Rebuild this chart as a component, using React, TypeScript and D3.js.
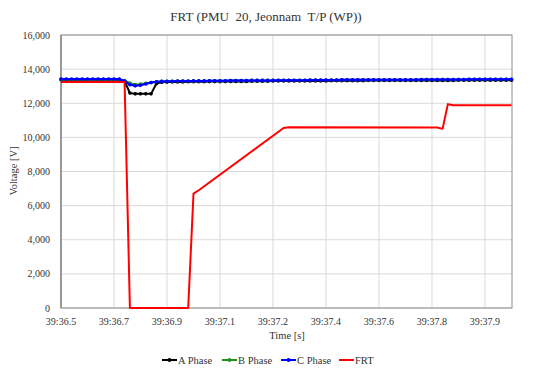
import React from 'react';
import * as d3 from 'd3';

// samples at 60/s, ticks every 10 samples
const tickIndex = [0, 10, 20, 30, 40, 50, 60, 70, 80];
const tickLabels = ['39:36.5', '39:36.7', '39:36.9', '39:37.1', '39:37.2', '39:37.4', '39:37.6', '39:37.8', '39:37.9'];
const yTicks = [0, 2000, 4000, 6000, 8000, 10000, 12000, 14000, 16000];

const phaseA = [
  13380, 13380, 13380, 13380, 13380, 13380, 13380, 13380, 13380, 13380,
  13380, 13380, 13300, 12600, 12550, 12550, 12550, 12550, 13150, 13230,
  13240, 13250, 13250, 13250, 13260, 13260, 13260, 13260, 13270, 13270,
  13270, 13270, 13280, 13280, 13280, 13280, 13290, 13290, 13290, 13290,
  13300, 13300, 13300, 13300, 13300, 13310, 13310, 13310, 13310, 13310,
  13310, 13320, 13320, 13320, 13320, 13320, 13320, 13320, 13330, 13330,
  13330, 13330, 13330, 13330, 13330, 13330, 13340, 13340, 13340, 13340,
  13340, 13340, 13340, 13340, 13340, 13350, 13350, 13350, 13350, 13350,
  13350, 13350, 13350, 13350, 13350, 13350,
];
const phaseB = [
  13400, 13400, 13400, 13400, 13400, 13400, 13400, 13400, 13400, 13400,
  13400, 13400, 13330, 13180, 13100, 13120, 13170, 13220, 13260, 13280,
  13290, 13290, 13300, 13300, 13300, 13310, 13310, 13310, 13320, 13320,
  13320, 13320, 13330, 13330, 13330, 13330, 13340, 13340, 13340, 13340,
  13340, 13350, 13350, 13350, 13350, 13350, 13350, 13360, 13360, 13360,
  13360, 13360, 13360, 13370, 13370, 13370, 13370, 13370, 13370, 13370,
  13380, 13380, 13380, 13380, 13380, 13380, 13380, 13380, 13390, 13390,
  13390, 13390, 13390, 13390, 13390, 13390, 13390, 13400, 13400, 13400,
  13400, 13400, 13400, 13400, 13400, 13400,
];
const phaseC = [
  13420, 13420, 13420, 13420, 13420, 13420, 13420, 13420, 13420, 13420,
  13420, 13420, 13300, 13080, 13020, 13050, 13130, 13210, 13260, 13280,
  13290, 13290, 13300, 13300, 13300, 13310, 13310, 13310, 13320, 13320,
  13320, 13320, 13330, 13330, 13330, 13330, 13340, 13340, 13340, 13340,
  13340, 13350, 13350, 13350, 13350, 13350, 13350, 13360, 13360, 13360,
  13360, 13360, 13360, 13370, 13370, 13370, 13370, 13370, 13370, 13370,
  13380, 13380, 13380, 13380, 13380, 13380, 13380, 13380, 13390, 13390,
  13390, 13390, 13390, 13390, 13390, 13390, 13390, 13400, 13400, 13400,
  13400, 13400, 13400, 13400, 13400, 13400,
];
// FRT curve vertices: [sample index, voltage]
const frt: [number, number][] = [
  [0, 13250], [12, 13250], [13, 0], [24, 0], [25, 6700], [26, 6900],
  [42, 10550], [43, 10600], [71, 10580], [72, 10500], [73, 11950], [74, 11880], [85, 11880],
];

const series = [
  { name: 'A Phase', color: '#000000', values: phaseA },
  { name: 'B Phase', color: '#1f8f1f', values: phaseB },
  { name: 'C Phase', color: '#0000ff', values: phaseC },
];

const W = 550;
const H = 376;
const FONT = "'Liberation Serif', 'DejaVu Serif', serif";
const txt = { fontFamily: FONT };

export default function App() {
  const x = d3.scaleLinear().domain([0, 85.1]).range([61, 512]);
  const y = d3.scaleLinear().domain([0, 16000]).range([308, 35]);

  const line = d3.line<number>().x((_, i) => x(i)).y(d => y(d));
  const frtLine = d3.line<[number, number]>().x(d => x(d[0])).y(d => y(d[1]));

  const legendItems = [
    { name: 'A Phase', color: '#000000', lx: 162, marker: true },
    { name: 'B Phase', color: '#1f8f1f', lx: 222, marker: true },
    { name: 'C Phase', color: '#0000ff', lx: 281, marker: true },
    { name: 'FRT', color: '#ff0000', lx: 339, marker: false },
  ];

  return (
    <div style={{ position: 'absolute', left: 0, top: 0 }}>
      <svg width={W} height={H} style={{ display: 'block', background: '#fff', fontFamily: FONT }}>
        <text x={266} y={21} textAnchor="middle" fontSize={13} fill="#333" style={txt}>
          FRT (PMU&#160;&#160;20, Jeonnam&#160;&#160;T/P (WP))
        </text>

        {/* grid */}
        {yTicks.map(t => (
          <line key={'gy' + t} x1={61} x2={512} y1={y(t)} y2={y(t)} stroke="#d9d9d9" strokeWidth={1} />
        ))}
        {tickIndex.map(t => (
          <line key={'gx' + t} x1={x(t)} x2={x(t)} y1={35} y2={308} stroke="#d9d9d9" strokeWidth={1} />
        ))}
        <rect x={61} y={35} width={451} height={273} fill="none" stroke="#8c8c8c" strokeWidth={1} />
        <line x1={61} x2={61} y1={35} y2={308} stroke="#8c8c8c" strokeWidth={1.5} />

        {/* y tick labels */}
        {yTicks.map(t => (
          <text key={'ty' + t} x={50} y={y(t) + 3.5} textAnchor="end" fontSize={10} fill="#333" style={txt}>
            {d3.format(',')(t)}
          </text>
        ))}
        {/* x tick labels */}
        {tickIndex.map((t, i) => (
          <text key={'tx' + t} x={x(t)} y={325} textAnchor="middle" fontSize={10} fill="#333" style={txt}>
            {tickLabels[i]}
          </text>
        ))}

        <text x={287} y={339} textAnchor="middle" fontSize={10.5} fill="#333" style={txt}>Time [s]</text>
        <text transform={`translate(17,${171}) rotate(-90)`} textAnchor="middle" fontSize={10.5} fill="#333" style={txt}>
          Voltage [V]
        </text>

        {/* series */}
        {series.map(s => (
          <g key={s.name}>
            <path d={line(s.values) || ''} fill="none" stroke={s.color} strokeWidth={2} />
            {s.values.map((v, i) => (
              <circle key={i} cx={x(i)} cy={y(v)} r={1.8} fill={s.color} />
            ))}
          </g>
        ))}
        <path d={frtLine(frt) || ''} fill="none" stroke="#ff0000" strokeWidth={2} strokeLinejoin="round" />

        {/* legend */}
        {legendItems.map(l => (
          <g key={l.name}>
            <line x1={l.lx} x2={l.lx + 15} y1={360} y2={360} stroke={l.color} strokeWidth={2} />
            {l.marker && <circle cx={l.lx + 7.5} cy={360} r={2} fill={l.color} />}
            <text x={l.lx + 16} y={363.5} fontSize={10.5} fill="#333" style={txt}>{l.name}</text>
          </g>
        ))}
      </svg>
    </div>
  );
}
